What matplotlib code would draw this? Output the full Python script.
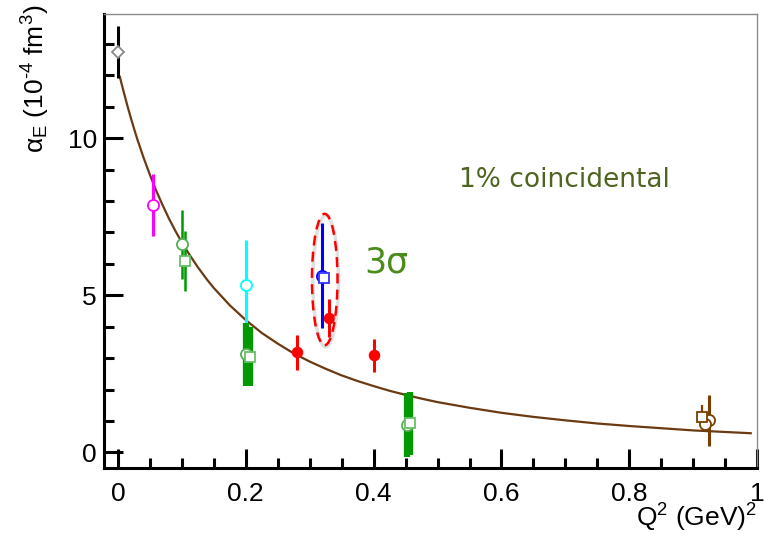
import numpy as np
import matplotlib
matplotlib.use("Agg")
import matplotlib.pyplot as plt
from matplotlib.patches import Ellipse

plt.rcParams['font.family'] = ['Liberation Sans', 'DejaVu Sans']
plt.rcParams['mathtext.fontset'] = 'custom'
plt.rcParams['mathtext.rm'] = 'Liberation Sans'
plt.rcParams['mathtext.it'] = 'Liberation Sans'

# fit curve
curve_q2 = [0.003, 0.005, 0.01, 0.015, 0.02, 0.025, 0.03, 0.04, 0.05, 0.06, 0.07, 0.08,
            0.09, 0.1, 0.11, 0.125, 0.14, 0.15, 0.175, 0.2, 0.225, 0.25, 0.275, 0.3,
            0.325, 0.35, 0.375, 0.4, 0.425, 0.45, 0.475, 0.5, 0.55, 0.6, 0.65, 0.7,
            0.75, 0.8, 0.85, 0.9, 0.95, 0.99]
curve_alpha = [11.95, 11.78, 11.39, 11.01, 10.65, 10.31, 9.98, 9.38, 8.83, 8.32, 7.86, 7.43,
               7.04, 6.68, 6.35, 5.89, 5.48, 5.23, 4.68, 4.21, 3.80, 3.46, 3.15, 2.89,
               2.66, 2.45, 2.27, 2.11, 1.96, 1.83, 1.71, 1.60, 1.42, 1.26, 1.13, 1.02,
               0.92, 0.84, 0.77, 0.70, 0.65, 0.61]

# data points
pt_x = [0.0, 0.055, 0.1, 0.105, 0.2, 0.2, 0.206, 0.28, 0.32, 0.322, 0.33, 0.40,
        0.452, 0.457, 0.925, 0.918, 0.914]
pt_y = [12.74, 7.88, 6.62, 6.08, 5.32, 3.12, 3.05, 3.18, 5.62, 5.55, 4.27, 3.09,
        0.86, 0.92, 1.02, 0.90, 1.12]
pt_err = [0.83, 0.98, 1.10, 0.95, 1.43, 1.00, 0.95, 0.55, 1.67, 0.0, 0.60, 0.52,
          1.02, 1.00, 0.82, 0.0, 0.40]
pt_color = ['black', '#ff00ff', '#009a00', '#009a00', '#00ffff', '#009a00', '#009a00',
            '#ff0000', '#0000ff', '#0000ff', '#ff0000', '#ff0000', '#009a00', '#009a00',
            '#7a3e00', '#7a3e00', '#7a3e00']
pt_marker = ['D', 'o', 'o', 's', 'o', 'o', 's', 'o', 'o', 's', 'o', 'o', 'o', 's', 'o', 'o', 's']
pt_edge = ['#888888', '#ff00ff', '#55b055', '#66c066', '#00ffff', '#55b055', '#66c066',
           '#ff0000', '#0000ff', '#3333ff', '#ff0000', '#ff0000', '#55b055', '#66c066',
           '#7a3e00', '#7a3e00', '#7a3e00']
pt_face = ['white', 'white', 'white', 'white', 'white', 'white', 'white', '#ff0000',
           'white', 'white', '#ff0000', '#ff0000', 'white', 'white', 'white', 'white', 'none']
pt_lw = [2.2, 2.2, 1.8, 1.8, 2.2, 4.5, 4.5, 2.2, 2.2, 2.2, 2.2, 2.2, 4.5, 4.5, 2.2, 2.2, 1.6]
pt_size = [6.5, 8, 8, 6.5, 8, 8, 6.5, 7, 8, 6.5, 7, 7, 8, 6.5, 8, 8, 6.5]

fig = plt.figure(figsize=(7.64, 5.35), dpi=100)
ax = fig.add_axes([0.136, 0.125, 0.855, 0.849])

ax.plot(curve_q2, curve_alpha, color='#6b3a12', lw=1.6, zorder=2, solid_joinstyle='round')

# bars first, markers on top
for i in range(len(pt_x)):
    if pt_err[i] > 0:
        if pt_face[i] == 'none':
            # short one-sided bar
            ax.plot([pt_x[i], pt_x[i]], [pt_y[i], pt_y[i] + pt_err[i]], color=pt_color[i],
                    lw=pt_lw[i], solid_capstyle='butt', zorder=3)
        else:
            ax.plot([pt_x[i], pt_x[i]], [pt_y[i] - pt_err[i], pt_y[i] + pt_err[i]],
                    color=pt_color[i], lw=pt_lw[i], solid_capstyle='butt', zorder=3)
for i in range(len(pt_x)):
    face = 'white' if pt_face[i] == 'none' else pt_face[i]
    ax.plot(pt_x[i], pt_y[i], marker=pt_marker[i], ms=pt_size[i], mec=pt_edge[i],
            mfc=face, mew=1.3, ls='none', zorder=4)

# soft shadow, then the dashed ellipse
shadow = Ellipse((0.325, 5.45), 0.04, 4.18, fill=False, ec='#cccccc', lw=2.5, alpha=0.6,
                 zorder=4.5)
ax.add_patch(shadow)
ell = Ellipse((0.3235, 5.5), 0.04, 4.18, fill=False, ec='#ff0000', lw=1.8, ls=(0, (4, 2.5)),
              zorder=5)
ax.add_patch(ell)

ax.text(0.385, 6.05, '3σ', color='#4a8c1c', fontsize=25, family='DejaVu Sans',
        va='center', ha='left')
ax.text(0.533, 8.66, '1% coincidental', color='#4f6420', fontsize=19,
        family='DejaVu Sans', va='center', ha='left')

ax.set_xlim(-0.022, 1.0)
ax.set_ylim(-0.5, 13.95)
ax.set_xticks([0, 0.2, 0.4, 0.6, 0.8, 1.0])
ax.set_xticklabels(['0', '0.2', '0.4', '0.6', '0.8', '1'])
ax.set_xticks(np.arange(0, 1.0001, 0.05), minor=True)
ax.set_yticks([0, 5, 10])
ax.set_yticks(np.arange(0, 14, 1), minor=True)

ax.tick_params(which='both', direction='in', width=2.2, color='black', labelsize=19)
ax.tick_params(which='major', length=13.5)
ax.tick_params(which='minor', length=7)
ax.tick_params(axis='x', pad=10)
ax.tick_params(axis='y', pad=5)

for s in ['left', 'bottom']:
    ax.spines[s].set_linewidth(2.2)
    ax.spines[s].set_color('black')
for s in ['top', 'right']:
    ax.spines[s].set_linewidth(1.0)
    ax.spines[s].set_color('#8a8a8a')

ax.set_ylabel('α$_{\\rm E}$ (10$^{\u2010 4}$ fm$^{3}$)', fontsize=19, loc='top')
ax.yaxis.set_label_coords(-0.08, 1.02)
ax.set_xlabel(r'Q$^{2}$ (GeV)$^{2}$', fontsize=19, loc='right')
ax.xaxis.set_label_coords(1.0, -0.075)

fig.savefig('out.png', dpi=100)
